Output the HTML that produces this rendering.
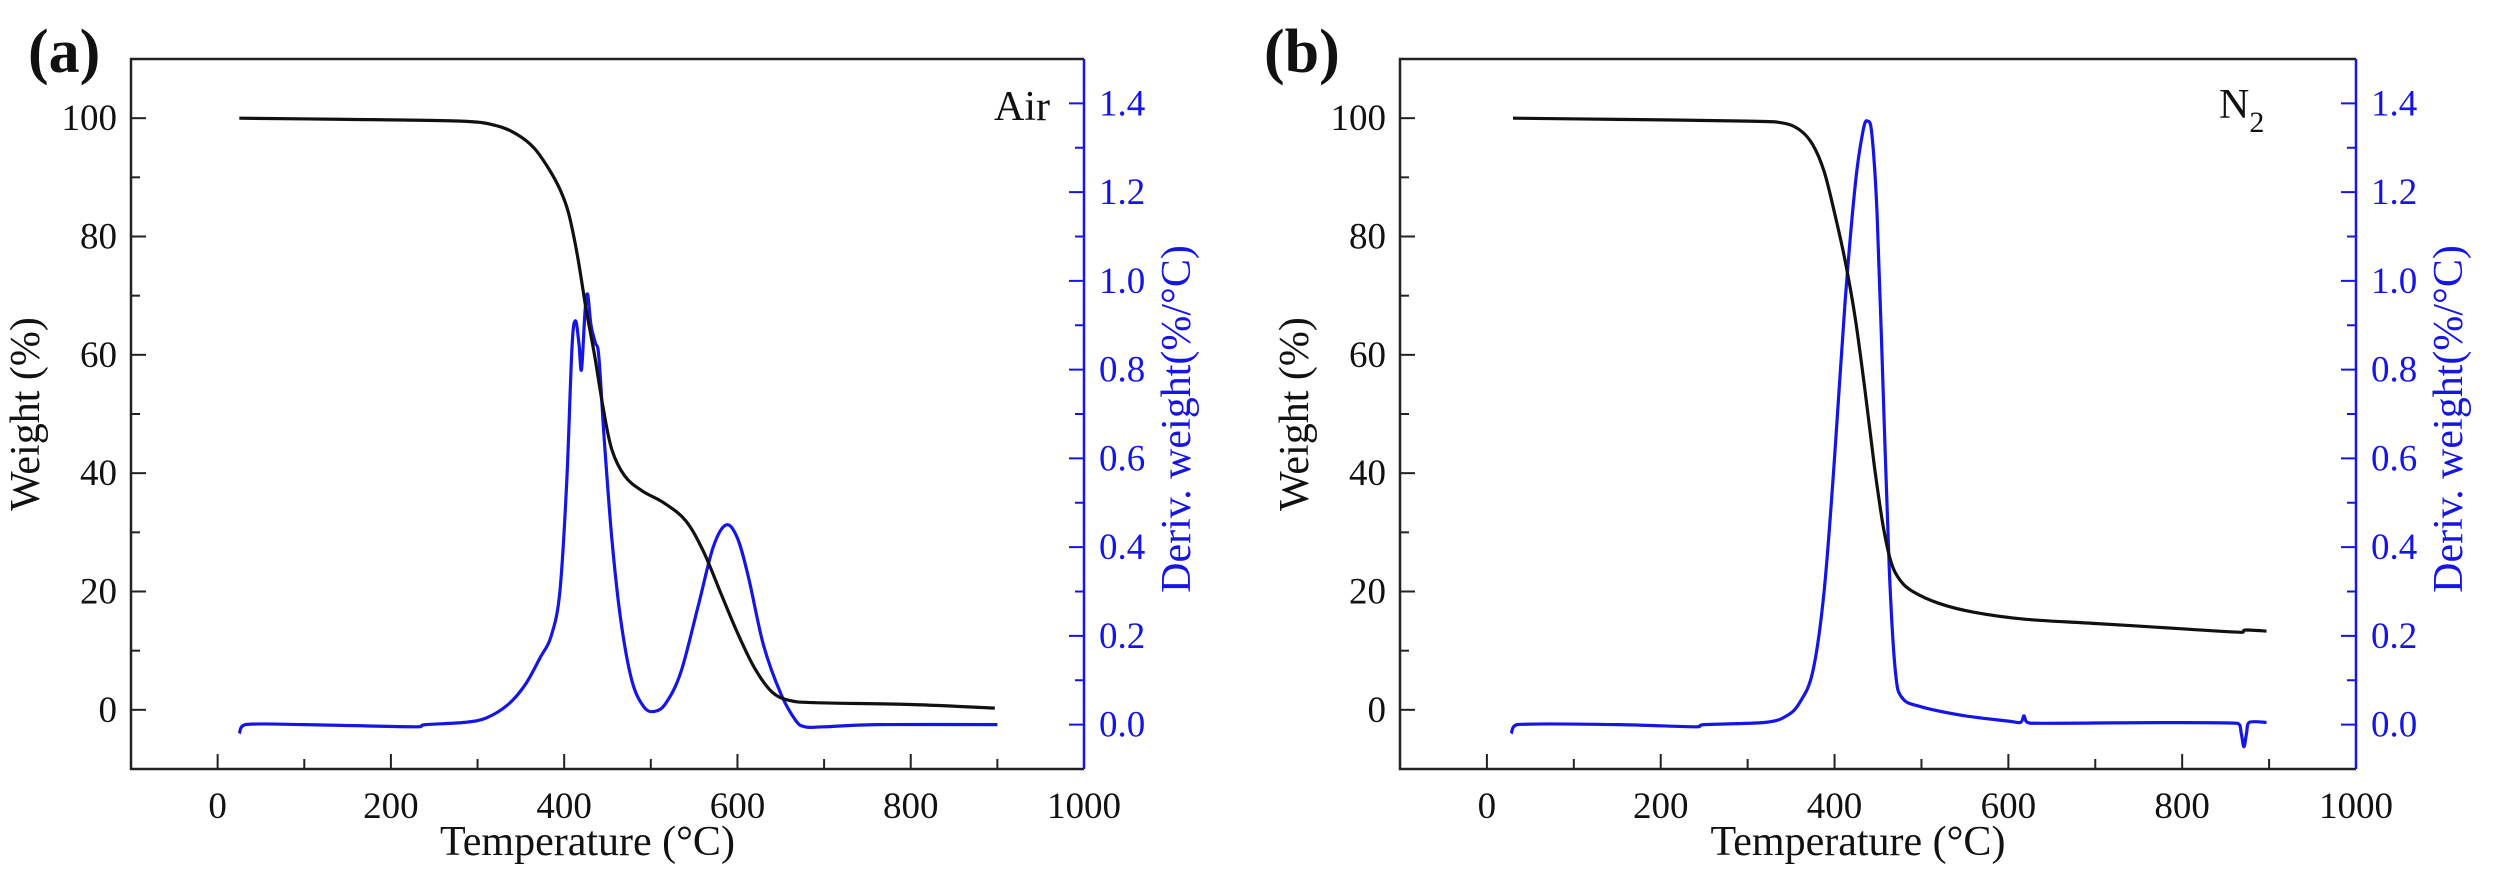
<!DOCTYPE html>
<html><head><meta charset="utf-8"><style>
html,body{margin:0;padding:0;background:#fff;}
svg{display:block;font-family:"Liberation Serif",serif;}
</style></head><body>
<svg id="s" width="2500" height="879" viewBox="0 0 2500 879" xmlns="http://www.w3.org/2000/svg"></svg>
<script>
const S=document.getElementById('s');let out='';
function cr(pts){let d='M'+pts[0][0].toFixed(1)+','+pts[0][1].toFixed(1);
const cl=(v,a,b)=>Math.max(Math.min(a,b),Math.min(Math.max(a,b),v));
for(let i=0;i<pts.length-1;i++){const p0=pts[i-1]||pts[i],p1=pts[i],p2=pts[i+1],p3=pts[i+2]||p2;
const c1=[cl(p1[0]+(p2[0]-p0[0])/6,p1[0],p2[0]),p1[1]+(p2[1]-p0[1])/6],c2=[cl(p2[0]-(p3[0]-p1[0])/6,p1[0],p2[0]),p2[1]-(p3[1]-p1[1])/6];
d+='C'+c1[0].toFixed(1)+','+c1[1].toFixed(1)+' '+c2[0].toFixed(1)+','+c2[1].toFixed(1)+' '+p2[0].toFixed(1)+','+p2[1].toFixed(1);}return d;}
function panel(o){
const {L,R,T,B}=o;const X=t=>L+(t+100)*(R-L)/1100,YL=w=>B-(w+10)*(B-T)/120,YR=d=>B-(d+0.1)*(B-T)/1.6;
out+=`<path d="${cr(o.dtg.map(p=>[X(p[0]),YR(p[1])]))}" fill="none" stroke="#1515e6" stroke-width="3.2"/>`;
out+=`<path d="${cr(o.tga.map(p=>[X(p[0]),YL(p[1])]))}" fill="none" stroke="#111" stroke-width="3.2"/>`;
out+=`<path d="M${R},${T}H${L}V${B}H${R}" fill="none" stroke="#222" stroke-width="2.5"/>`;
out+=`<line x1="${R}" y1="${T}" x2="${R}" y2="${B}" stroke="#1515e6" stroke-width="2.5"/>`;
for(let t=0;t<=900;t+=100){const x=X(t);out+=`<line x1="${x}" y1="${B}" x2="${x}" y2="${B-(t%200?10:15)}" stroke="#222" stroke-width="2"/>`;}
for(let t=0;t<=1000;t+=200)out+=`<text x="${X(t)}" y="${B+49}" font-size="37" text-anchor="middle" fill="#111">${t}</text>`;
for(let w=0;w<=100;w+=10){const y=YL(w);out+=`<line x1="${L}" y1="${y}" x2="${L+(w%20?9:15)}" y2="${y}" stroke="#222" stroke-width="2"/>`;
if(w%20==0)out+=`<text x="${L-14}" y="${y+12}" font-size="37" text-anchor="end" fill="#111">${w}</text>`;}
for(let k=0;k<=14;k++){const d=k/10,y=YR(d);out+=`<line x1="${R}" y1="${y}" x2="${R-(k%2?9:15)}" y2="${y}" stroke="#1515e6" stroke-width="2"/>`;
if(k%2==0)out+=`<text x="${R+15}" y="${y+12}" font-size="37" fill="#1515e6">${d.toFixed(1)}</text>`;}
const cx=(L+R)/2-20;
out+=`<text x="${cx}" y="${B+86}" font-size="42" text-anchor="middle" fill="#111">Temperature (°C)</text>`;
const ym=(T+B)/2;
out+=`<text transform="translate(${L-92},${ym}) rotate(-90)" font-size="42" text-anchor="middle" fill="#111">Weight (%)</text>`;
out+=`<text transform="translate(${R+106},${ym+5}) rotate(-90)" font-size="42" text-anchor="middle" fill="#1515e6">Deriv. weight(%/°C)</text>`;
out+=`<text x="${o.lx}" y="72" font-size="62" font-weight="bold" fill="#111">${o.lab}</text>`;
out+=o.tag;
}
panel({L:131,R:1084,T:59,B:769,lx:28,lab:'(a)',
tag:`<text x="1050" y="120" font-size="42" text-anchor="end" fill="#111">Air</text>`,
tga:[[25,100],[150,99.8],[280,99.5],[320,98.8],[345,97.3],[365,95],[382,91.5],[395,88],[405,84],[415,77],[425,68],[435,60],[445,51],[455,44],[470,39.5],[490,37],[515,35],[540,32],[560,27],[580,20],[600,13],[620,7],[640,3],[660,1.6],[690,1.2],[800,0.9],[897,0.3]],
dtg:[[25,-0.02],[32,0.0],[100,0.0],[230,-0.005],[240,0.0],[285,0.005],[310,0.015],[335,0.045],[355,0.09],[372,0.15],[385,0.2],[395,0.3],[403,0.55],[409,0.85],[413,0.91],[417,0.86],[420,0.8],[424,0.93],[427,0.97],[431,0.9],[436,0.86],[440,0.83],[446,0.65],[455,0.42],[465,0.24],[478,0.1],[492,0.04],[505,0.03],[518,0.05],[535,0.12],[555,0.27],[572,0.4],[587,0.45],[600,0.42],[613,0.33],[630,0.18],[650,0.07],[667,0.01],[678,-0.005],[700,-0.005],[760,0.0],[900,0.0]]});
panel({L:1400,R:2356,T:59,B:769,lx:1264,lab:'(b)',
tag:`<text x="2219" y="118" font-size="42" fill="#111">N<tspan font-size="30" dy="14">2</tspan></text>`,
tga:[[30,100],[150,99.8],[300,99.5],[340,99.2],[360,98],[375,95.5],[388,91],[400,84],[412,76],[424,66],[435,54],[446,41],[456,31],[465,25],[475,22],[490,20],[520,18],[560,16.5],[620,15.3],[700,14.6],[800,13.7],[868,13.1],[873,13.5],[897,13.3]],
dtg:[[28,-0.02],[35,0.0],[150,0.0],[240,-0.005],[250,0.0],[320,0.005],[345,0.02],[360,0.05],[375,0.12],[388,0.3],[400,0.6],[412,0.95],[424,1.22],[433,1.34],[438,1.36],[443,1.33],[449,1.15],[456,0.75],[463,0.35],[470,0.12],[478,0.06],[500,0.04],[550,0.02],[600,0.008],[614,0.005],[618,0.02],[622,0.005],[640,0.003],[864,0.003],[868,-0.02],[871,-0.05],[874,-0.02],[877,0.005],[897,0.005]]});
S.innerHTML=out;
</script>
</body></html>
